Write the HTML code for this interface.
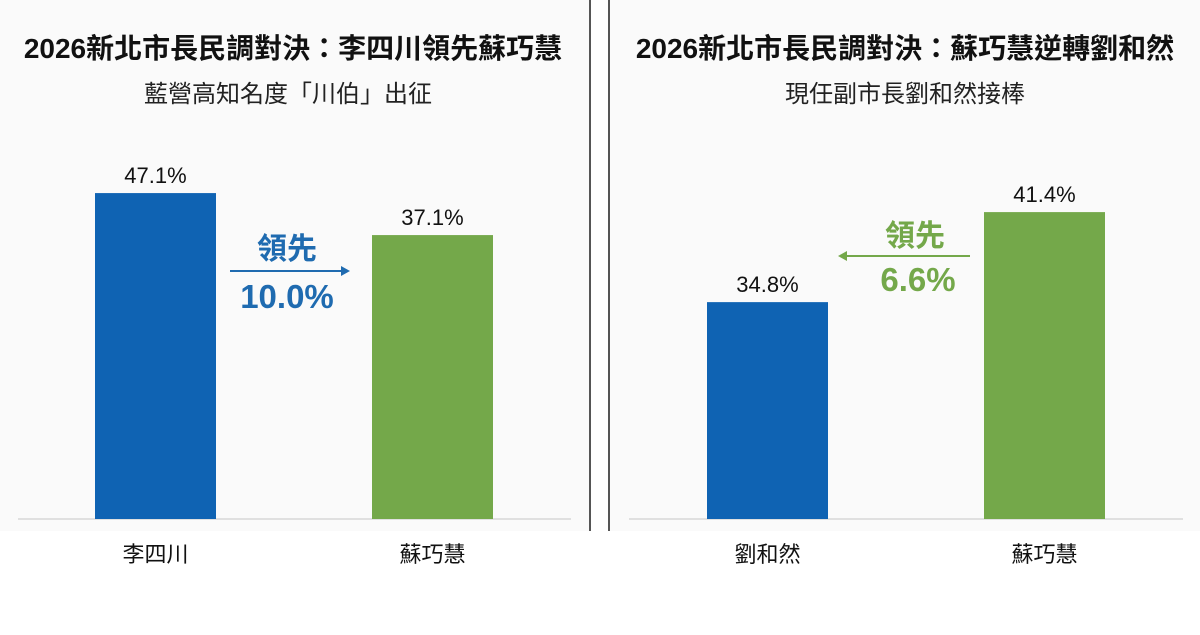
<!DOCTYPE html>
<html><head><meta charset="utf-8"><style>
body{margin:0;background:#fff;width:1200px;height:630px;overflow:hidden}
svg text{font-family:"Liberation Sans","Noto Sans CJK TC",sans-serif}
</style></head><body>
<svg width="1200" height="630">
<rect x="0" y="0" width="590" height="531" fill="#fafafa"/>
<rect x="610" y="0" width="590" height="531" fill="#fafafa"/>
<line x1="590" y1="0" x2="590" y2="531" stroke="#555" stroke-width="2"/>
<line x1="609" y1="0" x2="609" y2="531" stroke="#555" stroke-width="2"/>
<text x="293" y="58" text-anchor="middle" font-size="28" font-weight="bold" fill="#111">2026新北市長民調對決：李四川領先蘇巧慧</text>
<text x="288" y="102" text-anchor="middle" font-size="24" fill="#222">藍營高知名度「川伯」出征</text>
<text x="905" y="58" text-anchor="middle" font-size="28" font-weight="bold" fill="#111">2026新北市長民調對決：蘇巧慧逆轉劉和然</text>
<text x="905" y="102" text-anchor="middle" font-size="24" fill="#222">現任副市長劉和然接棒</text>
<line x1="18" y1="519" x2="571" y2="519" stroke="#e0e0e0" stroke-width="2"/>
<line x1="629" y1="519" x2="1183" y2="519" stroke="#e0e0e0" stroke-width="2"/>
<g id="marks"></g>
<text x="287" y="259" text-anchor="middle" font-size="30" font-weight="bold" fill="#1f6bb0">領先</text>
<line x1="230" y1="271" x2="344" y2="271" stroke="#1f6bb0" stroke-width="2"/>
<polygon points="350,271 341,266 341,276" fill="#1f6bb0"/>
<text x="287" y="308" text-anchor="middle" font-size="33" font-weight="bold" fill="#1f6bb0">10.0%</text>
<text x="915" y="246" text-anchor="middle" font-size="30" font-weight="bold" fill="#74a84a">領先</text>
<line x1="846" y1="256" x2="970" y2="256" stroke="#74a84a" stroke-width="2"/>
<polygon points="838,256 847,251 847,261" fill="#74a84a"/>
<text x="918" y="291" text-anchor="middle" font-size="33" font-weight="bold" fill="#74a84a">6.6%</text>
</svg>
<script>
const leftCategories=["李四川","蘇巧慧"];
const leftValues=[47.1,37.1];
const rightCategories=["劉和然","蘇巧慧"];
const rightValues=[34.8,41.4];
const colors=["#0f63b3","#74a84a"];
const NS="http://www.w3.org/2000/svg";
const g=document.getElementById("marks");
const base=519;
function yLeft(v){return base-(v+30.5)*4.2;}
function yRight(v){return base-(v-18.9)*13.64;}
function draw(cats,vals,xs,yf,side){
  cats.forEach((c,i)=>{
    const x=xs[i],w=121,y=yf(vals[i]);
    const r=document.createElementNS(NS,"rect");
    r.setAttribute("x",x);r.setAttribute("y",y);r.setAttribute("width",w);r.setAttribute("height",base-y);r.setAttribute("fill",colors[i]);
    
    
    g.appendChild(r);
    const t=document.createElementNS(NS,"text");
    t.setAttribute("x",x+w/2);t.setAttribute("y",y-10);t.setAttribute("text-anchor","middle");t.setAttribute("font-size","22");t.setAttribute("fill","#111");
    t.textContent=vals[i].toFixed(1)+"%";
    
    
    g.appendChild(t);
    const l=document.createElementNS(NS,"text");
    l.setAttribute("x",x+w/2);l.setAttribute("y",562);l.setAttribute("text-anchor","middle");l.setAttribute("font-size","22");l.setAttribute("fill","#111");
    l.textContent=c;
    
    
    g.appendChild(l);
  });
}
draw(leftCategories,leftValues,[95,372],yLeft,"left");
draw(rightCategories,rightValues,[707,984],yRight,"right");
</script>
</body></html>
